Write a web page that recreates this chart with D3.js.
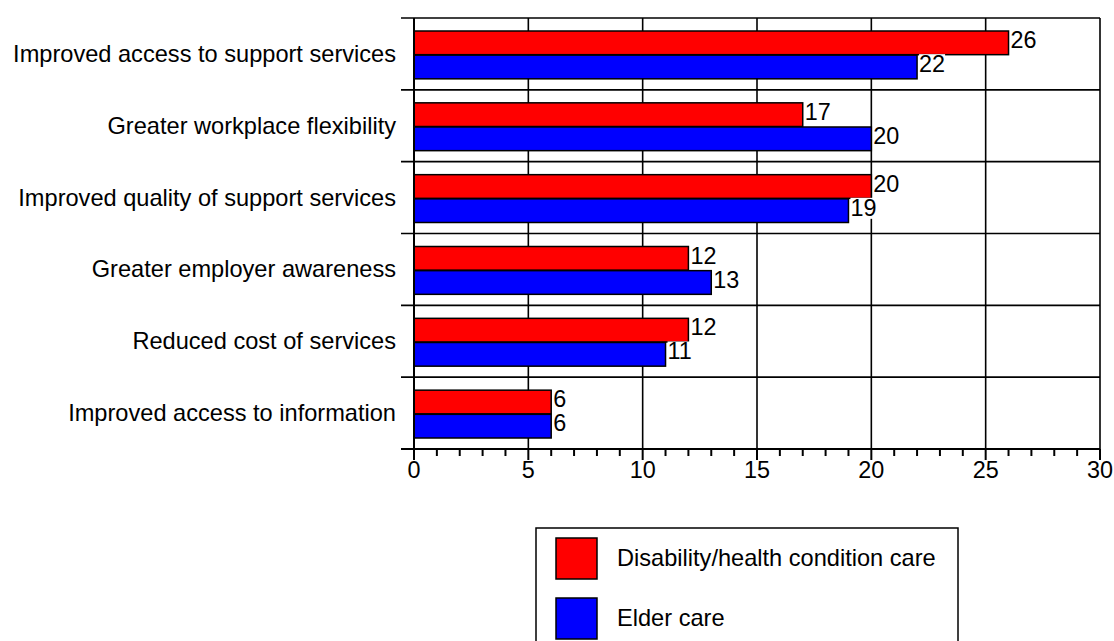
<!DOCTYPE html>
<html><head><meta charset="utf-8">
<script src="https://cdn.jsdelivr.net/npm/d3@7"></script>
<style>body{margin:0;background:#fff;} svg{display:block;font-family:"Liberation Sans",Arial,sans-serif;}</style>
</head><body>
<svg id="c" width="1114" height="641"></svg>
<script>
const categories = ["Improved access to support services","Greater workplace flexibility","Improved quality of support services","Greater employer awareness","Reduced cost of services","Improved access to information"];
const seriesNames = ["Disability/health condition care","Elder care"];
const disability = [26,17,20,12,12,6];
const elder = [22,20,19,13,11,6];
const colors = ["#ff0000","#0000ff"];
const xTicks = [0,5,10,15,20,25,30];

const svg = d3.select("#c");
const L = 414, R = 1100, T = 18, B = 449;
const FS = 23.4;
const x = d3.scaleLinear().domain([0,30]).range([L,R]);
const y = d3.scaleBand().domain(categories).range([T,B]).paddingInner(0).paddingOuter(0);
const inner = d3.scaleBand().domain([0,1]).range([13, y.bandwidth()-11]).paddingInner(0.02);

const g = svg.append("g");
const bounds = categories.map(c=>y(c)).concat([B]);
g.selectAll("line.h").data(bounds).join("line")
  .attr("x1",401).attr("x2",R).attr("y1",d=>d).attr("y2",d=>d)
  .attr("stroke","#000").attr("stroke-width",1.6);
g.selectAll("line.v").data(xTicks.slice(1)).join("line")
  .attr("x1",d=>x(d)).attr("x2",d=>x(d)).attr("y1",T).attr("y2",B)
  .attr("stroke","#000").attr("stroke-width",1.6);

const data = [disability, elder];
const barG = g.append("g"), bgG = g.append("g"), lblG = g.append("g");
categories.forEach((c,i)=>{
  data.forEach((s,j)=>{
    const by = y(c)+inner(j);
    barG.append("rect").attr("x",x(0)).attr("y",by).attr("width",x(s[i])-x(0)).attr("height",inner.bandwidth())
      .attr("fill",colors[j]).attr("stroke","#000").attr("stroke-width",1.5);
    const t = lblG.append("text").attr("x",x(s[i])+2).attr("y",by+17).attr("font-size",FS).attr("fill","#000").text(s[i]);
    const bb = t.node().getBBox();
    bgG.append("rect").attr("x",bb.x).attr("y",bb.y+3).attr("width",bb.width).attr("height",bb.height-5).attr("fill","#fff");
  });
});

g.append("line").attr("x1",L).attr("x2",L).attr("y1",T).attr("y2",B+11).attr("stroke","#000").attr("stroke-width",2);
const minor = d3.range(0,31);
g.selectAll("line.t").data(minor).join("line")
  .attr("x1",d=>x(d)).attr("x2",d=>x(d)).attr("y1",B).attr("y2",d=>B+(d%5===0?11:7))
  .attr("stroke","#000").attr("stroke-width",2);
g.append("line").attr("x1",401).attr("x2",R).attr("y1",B).attr("y2",B).attr("stroke","#000").attr("stroke-width",2);
g.selectAll("text.xt").data(xTicks).join("text").attr("class","xt")
  .attr("x",d=>x(d)).attr("y",B+29).attr("text-anchor","middle").attr("font-size",FS).text(d=>d);

g.selectAll("text.cat").data(categories).join("text").attr("class","cat")
  .attr("x",396).attr("y",d=>y(d)+y.bandwidth()/2+8).attr("text-anchor","end").attr("font-size",23.6).text(d=>d);

const lg = svg.append("g");
lg.append("rect").attr("x",536).attr("y",528).attr("width",422).attr("height",130).attr("fill","#fff").attr("stroke","#000").attr("stroke-width",1.5);
seriesNames.forEach((n,j)=>{
  lg.append("rect").attr("x",556).attr("y",538+j*60).attr("width",41).attr("height",41).attr("fill",colors[j]).attr("stroke","#000").attr("stroke-width",1.5);
  lg.append("text").attr("x",617).attr("y",566+j*60).attr("font-size",23.6).text(n);
});
</script>
</body></html>
